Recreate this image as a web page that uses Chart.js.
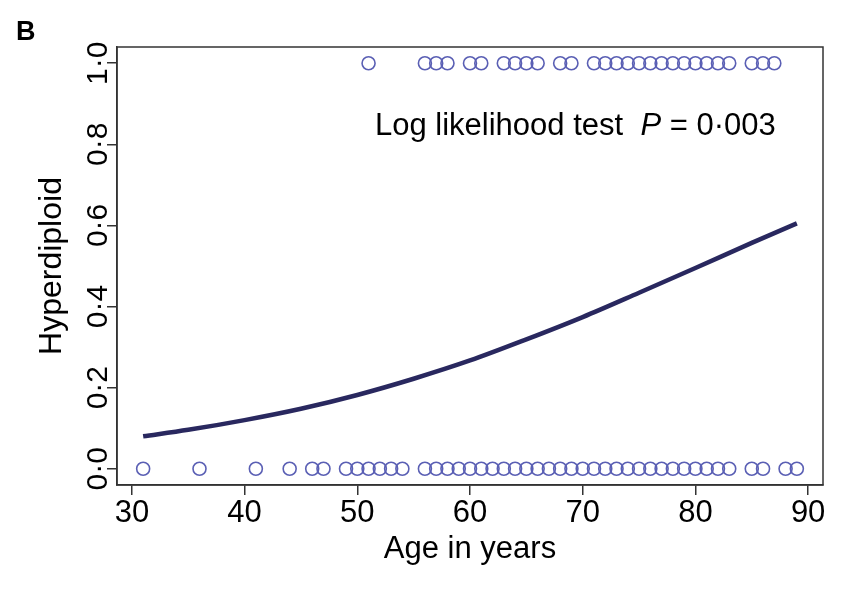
<!DOCTYPE html>
<html>
<head>
<meta charset="utf-8">
<script src="https://cdn.jsdelivr.net/npm/chart.js@4"></script>
<style>
  html, body { margin: 0; padding: 0; background: #fff; }
  #wrap { width: 846px; height: 590px; position: relative; }
</style>
</head>
<body>
<div id="wrap"><canvas id="c" width="846" height="590"></canvas></div>
<script>
// Ages of patients with hyperdiploid = 1 (top row)
const agesHyper = [51, 56, 57, 58, 60, 61, 63, 64, 65, 66, 68, 69,
  71, 72, 73, 74, 75, 76, 77, 78, 79, 80, 81, 82, 83, 85, 86, 87];
// Ages of patients with hyperdiploid = 0 (bottom row)
const agesNonHyper = [31, 36, 41, 44, 46, 47, 49, 50, 51, 52, 53, 54,
  56, 57, 58, 59, 60, 61, 62, 63, 64, 65, 66, 67, 68, 69, 70, 71, 72, 73,
  74, 75, 76, 77, 78, 79, 80, 81, 82, 83, 85, 86, 88, 89];
// Fitted curve
const curveAges = [31, 35, 40, 45, 50, 55, 60, 65, 70, 75, 80, 85, 89];
const curveProb = [0.080, 0.096, 0.120, 0.148, 0.182, 0.222, 0.267, 0.319, 0.374, 0.434, 0.495, 0.557, 0.605];
// Tick labels
const xTicks = [30, 40, 50, 60, 70, 80, 90];
const yTicks = [0, 0.2, 0.4, 0.6, 0.8, 1.0];

const FONT = "'Liberation Sans', Arial, Helvetica, sans-serif";
const fmt = v => v.toFixed(1).replace('.', '\u00B7');

const extras = {
  id: 'extras',
  afterDraw(chart) {
    const ctx = chart.ctx;
    const a = chart.chartArea;
    const ys = chart.scales.y;
    ctx.save();
    // box
    ctx.strokeStyle = '#333';
    ctx.lineWidth = 1.5;
    ctx.strokeRect(a.left, a.top, a.right - a.left, a.bottom - a.top);
    // rotated y tick labels
    ctx.fillStyle = '#000';
    ctx.font = '30px ' + FONT;
    ctx.textAlign = 'center';
    ctx.textBaseline = 'alphabetic';
    ys.ticks.forEach(t => {
      const y = ys.getPixelForValue(t.value);
      ctx.save();
      ctx.translate(107, y);
      ctx.rotate(-Math.PI / 2);
      ctx.fillText(fmt(t.value), 0, 0);
      ctx.restore();
    });
    // annotation
    ctx.textAlign = 'left';
    const ax = a.left + 258, ay = a.top + 88;
    ctx.font = '31px ' + FONT;
    const s1 = 'Log likelihood test  ';
    ctx.fillText(s1, ax, ay);
    let x = ax + ctx.measureText(s1).width;
    ctx.font = 'italic 31px ' + FONT;
    ctx.fillText('P', x, ay);
    x += ctx.measureText('P').width;
    ctx.font = '31px ' + FONT;
    ctx.fillText(' = 0\u00B7003', x, ay);
    // panel letter
    ctx.font = 'bold 27px ' + FONT;
    ctx.fillText('B', 16, 40);
    ctx.restore();
  }
};

new Chart(document.getElementById('c'), {
  type: 'scatter',
  data: {
    datasets: [
      {
        type: 'line',
        data: curveAges.map((a, i) => ({ x: a, y: curveProb[i] })),
        borderColor: '#29285f',
        borderWidth: 4.5,
        pointRadius: 0,
        fill: false,
        cubicInterpolationMode: 'monotone',
        order: 0
      },
      {
        data: agesHyper.map(a => ({ x: a, y: 1 })),
        pointStyle: 'circle',
        pointRadius: 6.5,
        borderColor: '#5a5fb4',
        backgroundColor: 'rgba(0,0,0,0)',
        borderWidth: 1.6,
        order: 1
      },
      {
        data: agesNonHyper.map(a => ({ x: a, y: 0 })),
        pointStyle: 'circle',
        pointRadius: 6.5,
        borderColor: '#5a5fb4',
        backgroundColor: 'rgba(0,0,0,0)',
        borderWidth: 1.6,
        order: 1
      }
    ]
  },
  options: {
    responsive: false,
    animation: false,
    layout: { padding: { left: 0, right: 23, top: 47, bottom: 22 } },
    plugins: { legend: { display: false }, tooltip: { enabled: false } },
    scales: {
      x: {
        type: 'linear',
        min: 28.68,
        max: 91.32,
        afterBuildTicks: s => { s.ticks = xTicks.map(v => ({ value: v })); },
        afterFit: s => { s.height = 83; },
        ticks: { font: { family: FONT, size: 31 }, color: '#000', padding: 0, maxRotation: 0, autoSkip: false },
        grid: { drawOnChartArea: false, drawTicks: true, tickLength: 10, color: '#333', lineWidth: 1.5 },
        border: { display: true, color: '#333', width: 1.5 },
        title: { display: true, text: 'Age in years', font: { family: FONT, size: 31 }, color: '#000', padding: { top: 0, bottom: 0 } }
      },
      y: {
        type: 'linear',
        min: -0.04,
        max: 1.04,
        afterBuildTicks: s => { s.ticks = yTicks.map(v => ({ value: v })); },
        afterFit: s => { s.width = 117; },
        ticks: { display: false },
        grid: { drawOnChartArea: false, drawTicks: true, tickLength: 10, color: '#333', lineWidth: 1.5 },
        border: { display: true, color: '#333', width: 1.5 },
        title: { display: true, text: 'Hyperdiploid', font: { family: FONT, size: 32 }, color: '#000', padding: { top: 33, bottom: 0 } }
      }
    }
  },
  plugins: [extras]
});
</script>
</body>
</html>
